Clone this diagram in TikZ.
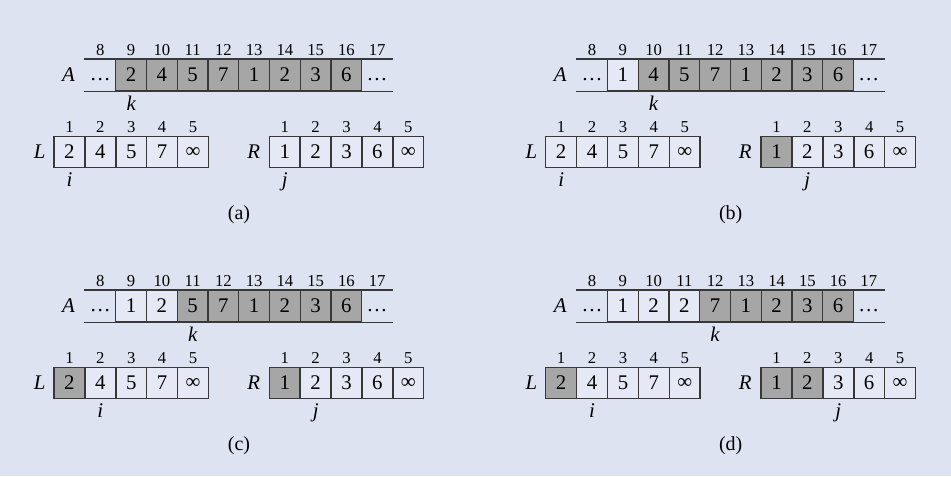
\documentclass[tikz,border=0pt]{standalone}
\usepackage{fontspec}
\setmainfont{Liberation Serif}
\usetikzlibrary{positioning}
\definecolor{bgblue}{HTML}{DEE3F1}
\definecolor{cellfill}{HTML}{E5E9F5}
\definecolor{doneshade}{HTML}{A6A6A6}
\definecolor{rule}{HTML}{383838}

\tikzset{
	cell/.style={draw=rule, line width=0.85pt, minimum width=18.45pt, minimum height=18.6pt,
		inner sep=0pt, font=\fontsize{12.5}{13}\selectfont, fill=cellfill},
	dots/.style={cell, draw=none, fill=none, text height=6.5pt},
	idx/.style={inner sep=0pt, font=\fontsize{10}{11}\selectfont},
	arrname/.style={inner sep=0pt, font=\itshape\fontsize{12.5}{13}\selectfont},
	ptr/.style={inner sep=0pt, font=\itshape\fontsize{12.5}{13}\selectfont},
	tag/.style={inner sep=0pt, font=\fontsize{12}{13}\selectfont}
}

% #1 name, #2 x, #3 y, #4 values of A[9..16], #5 k, #6 i, #7 j
\newcommand\mergepanel[7]{%
	\begin{scope}[shift={(#2,#3)}]
		% array A
		\node[dots] (#1-A8) at (100.4,75) {…};
		\foreach \v [count=\n from 9] in {#4} {
			\ifnum\n<#5 \def\fc{cellfill}\else\def\fc{doneshade}\fi
			\node[cell, fill=\fc] (#1-A\n) at ({85+(\n-7.5)*30.75},75) {\v};
		}
		\node[dots] (#1-A17) at (377.1,75) {…};
		\foreach \n in {8,...,17}
			\node[idx, above=1.6pt of #1-A\n] {\n};
		\draw[rule, line width=0.85pt] (#1-A8.north west) -- (#1-A17.north east);
		\draw[rule, line width=0.85pt] (#1-A8.south west) -- (#1-A17.south east);
		\node[arrname, left=5.5pt of #1-A8] (#1-Aname) {A};
		\node[ptr, below=2.8pt of #1-A#5] (#1-k) {k};
		% array L
		\foreach \v [count=\n] in {2,4,5,7,∞} {
			\ifnum\n<#6 \def\fc{doneshade}\else\def\fc{cellfill}\fi
			\node[cell, fill=\fc] (#1-L\n) at ({54+(\n-0.5)*30.9},152) {\v};
			\node[idx, above=1.6pt of #1-L\n] {\n};
		}
		\node[arrname, left=4.5pt of #1-L1] (#1-Lname) {L};
		\node[ptr, below=2.6pt of #1-L#6] (#1-i) {i};
		% array R
		\foreach \v [count=\n] in {1,2,3,6,∞} {
			\ifnum\n<#7 \def\fc{doneshade}\else\def\fc{cellfill}\fi
			\node[cell, fill=\fc] (#1-R\n) at ({269.3+(\n-0.5)*30.9},152) {\v};
			\node[idx, above=1.6pt of #1-R\n] {\n};
		}
		\node[arrname, left=5pt of #1-R1] (#1-Rname) {R};
		\node[ptr, below=2.6pt of #1-R#7] (#1-j) {j};
		\node[tag] (#1-tag) at (239,215) {(#1)};
	\end{scope}}

\begin{document}
\begin{tikzpicture}[x=0.6pt, y=-0.6pt]
	\fill[bgblue] (0,0) rectangle (951,476);
	\mergepanel{a}{0}{0}{2,4,5,7,1,2,3,6}{9}{1}{1}
	\mergepanel{b}{491.7}{0}{1,4,5,7,1,2,3,6}{10}{1}{2}
	\mergepanel{c}{0}{231}{1,2,5,7,1,2,3,6}{11}{2}{2}
	\mergepanel{d}{491.7}{231}{1,2,2,7,1,2,3,6}{12}{2}{3}
\end{tikzpicture}
\end{document}
